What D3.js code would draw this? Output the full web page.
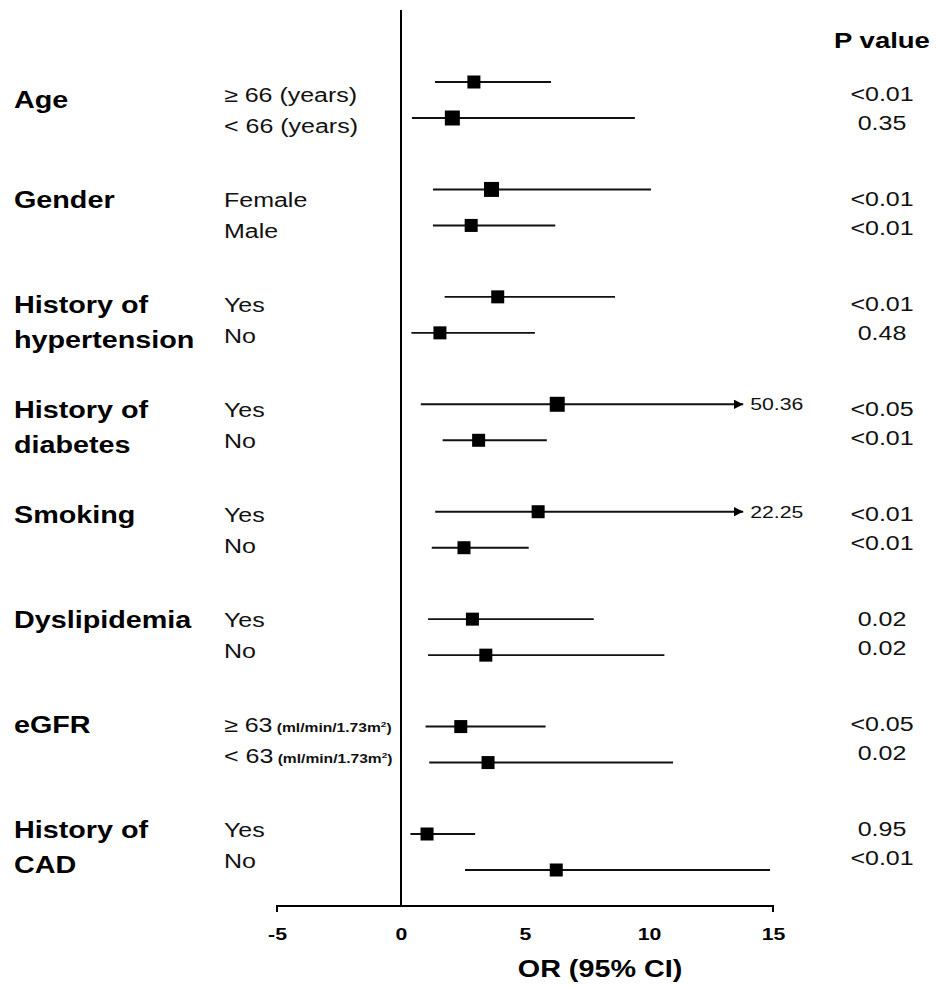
<!DOCTYPE html>
<html lang="en">
<head>
  <meta charset="UTF-8">
  <title>Forest plot OR (95% CI)</title>
  <style>
    body {
      margin: 0;
      background: #fff;
      font-family: "Liberation Sans", Arial, sans-serif;
    }
  </style>
</head>
<body>
  <div id="chart"></div>

  <script src="https://d3js.org/d3.v7.min.js"></script>
  <script>
    const groups = ["Age", "Gender", "History of|hypertension", "History of|diabetes",
                    "Smoking", "Dyslipidemia", "eGFR", "History of|CAD"];
    const subLabels = [
      ["≥ 66 (years)", "< 66 (years)"],
      ["Female", "Male"],
      ["Yes", "No"],
      ["Yes", "No"],
      ["Yes", "No"],
      ["Yes", "No"],
      ["≥ 63", "< 63"],
      ["Yes", "No"]
    ];
    const orValues = [2.94, 2.07, 3.65, 2.83, 3.90, 1.57, 6.30, 3.13,
                      5.53, 2.54, 2.88, 3.42, 2.41, 3.51, 1.05, 6.26];
    const ciLower  = [1.37, 0.44, 1.29, 1.29, 1.76, 0.42, 0.80, 1.68,
                      1.38, 1.24, 1.09, 1.09, 0.99, 1.14, 0.38, 2.58];
    const ciUpper  = [6.05, 9.43, 10.08, 6.22, 8.63, 5.40, 50.36, 5.88,
                      22.25, 5.15, 7.77, 10.62, 5.83, 10.97, 2.99, 14.88];
    const pValues  = ["<0.01", "0.35", "<0.01", "<0.01", "<0.01", "0.48", "<0.05", "<0.01",
                      "<0.01", "<0.01", "0.02", "0.02", "<0.05", "0.02", "0.95", "<0.01"];
    const xTicks = [-5, 0, 5, 10, 15];

    const width = 937, height = 986;
    const SX = 1.25; // the original's lettering is stretched sideways

    const svg = d3.select("#chart").append("svg")
      .attr("width", width)
      .attr("height", height);

    const x = d3.scaleLinear().domain([-5, 15]).range([277, 773]);
    // rows of marks and rows of text are spaced a bit differently in the original
    const yMark = d3.scaleLinear().domain([0, 7]).range([82, 834]);
    const yText = d3.scaleLinear().domain([0, 7]).range([95, 830]);
    const arrowMax = 13.8; // where CIs beyond the axis stop

    const rows = orValues.map((v, i) => ({
      or: v, lo: ciLower[i], hi: ciUpper[i], p: pValues[i],
      g: Math.floor(i / 2), s: i % 2, label: subLabels[Math.floor(i / 2)][i % 2]
    }));
    const rowY = d => yMark(d.g) + d.s * 36;
    const at = (tx, ty) => `translate(${tx},${ty}) scale(${SX},1)`;

    svg.append("defs").append("marker")
      .attr("id", "arrow")
      .attr("viewBox", "0 0 10 10")
      .attr("refX", 10).attr("refY", 5)
      .attr("markerWidth", 5).attr("markerHeight", 5)
      .attr("orient", "auto")
      .append("path")
      .attr("d", "M0,0L10,5L0,10Z")
      .attr("fill", "#000");

    // x axis
    const axis = svg.append("g")
      .attr("transform", "translate(0,906)")
      .call(d3.axisBottom(x).tickValues(xTicks).tickSize(6).tickFormat(d => String(d)));
    axis.select(".domain").attr("stroke", "#000").attr("stroke-width", 2)
      .attr("d", `M${x(-5)},6V0H${x(15)}V6`);
    axis.selectAll(".tick line").remove();
    axis.selectAll(".tick text")
      .attr("y", 22)
      .attr("transform", `scale(${SX},1)`)
      .attr("font-family", "Liberation Sans, Arial, sans-serif")
      .attr("font-size", 17)
      .attr("font-weight", "bold")
      .attr("fill", "#000");

    svg.append("text")
      .attr("transform", at(600, 977))
      .attr("text-anchor", "middle")
      .attr("font-size", 23)
      .attr("font-weight", "bold")
      .text("OR (95% CI)");

    // reference line at 0
    svg.append("line")
      .attr("x1", x(0)).attr("x2", x(0))
      .attr("y1", 10).attr("y2", 906)
      .attr("stroke", "#000").attr("stroke-width", 2);

    // CI lines
    const xMax = x.domain()[1];
    svg.selectAll(".ci").data(rows).enter().append("line")
      .attr("class", "ci")
      .attr("x1", d => x(d.lo))
      .attr("x2", d => x(d.hi > xMax ? arrowMax : d.hi))
      .attr("y1", rowY)
      .attr("y2", rowY)
      .attr("stroke", "#111").attr("stroke-width", 1.9)
      .attr("marker-end", d => d.hi > xMax ? "url(#arrow)" : null);

    svg.selectAll(".trunc").data(rows.filter(d => d.hi > xMax)).enter().append("text")
      .attr("class", "trunc")
      .attr("transform", d => at(x(arrowMax) + 7, rowY(d)))
      .attr("dy", "0.35em")
      .attr("font-size", 17)
      .attr("fill", "#111")
      .text(d => d3.format(".2f")(d.hi));

    // point estimates
    const bigRows = [1, 2, 6];
    svg.selectAll(".pt").data(rows).enter().append("rect")
      .attr("class", "pt")
      .each(function(d, i) {
        const sz = bigRows.includes(i) ? 15 : 13;
        d3.select(this)
          .attr("x", x(d.or) - sz / 2)
          .attr("y", rowY(d) - sz / 2)
          .attr("width", sz).attr("height", sz);
      })
      .attr("fill", "#000");

    // group labels
    svg.selectAll(".grp").data(groups).enter().append("text")
      .attr("class", "grp")
      .attr("transform", (d, i) => at(14, yText(i) + (i === 0 ? 5 : 0)))
      .attr("font-size", 23)
      .attr("font-weight", "bold")
      .each(function(d) {
        d3.select(this).selectAll("tspan").data(d.split("|")).enter().append("tspan")
          .attr("x", 0)
          .attr("dy", (p, j) => j === 0 ? "0.35em" : 35)
          .text(p => p);
      });

    // sub labels
    const sub = svg.selectAll(".sub").data(rows).enter().append("text")
      .attr("class", "sub")
      .attr("transform", d => at(224, yText(d.g) + d.s * 31))
      .attr("dy", "0.35em")
      .attr("font-size", 20)
      .attr("fill", "#111")
      .text(d => d.label);
    sub.filter(d => d.g === 6).append("tspan")
      .attr("font-size", 12.5)
      .attr("font-weight", "bold")
      .text(" (ml/min/1.73m")
      .append("tspan")
      .attr("font-size", 8)
      .attr("dy", -5)
      .text("2");
    sub.filter(d => d.g === 6).append("tspan")
      .attr("font-size", 12.5)
      .attr("font-weight", "bold")
      .attr("dy", 5)
      .text(")");

    // p values
    svg.append("text")
      .attr("transform", at(882, 40))
      .attr("dy", "0.35em")
      .attr("text-anchor", "middle")
      .attr("font-size", 22)
      .attr("font-weight", "bold")
      .text("P value");

    svg.selectAll(".pv").data(rows).enter().append("text")
      .attr("class", "pv")
      .attr("transform", d => at(882, yText(d.g) - 1 + d.s * 29))
      .attr("dy", "0.35em")
      .attr("text-anchor", "middle")
      .attr("font-size", 20)
      .attr("fill", "#111")
      .text(d => d.p);
  </script>
</body>
</html>
